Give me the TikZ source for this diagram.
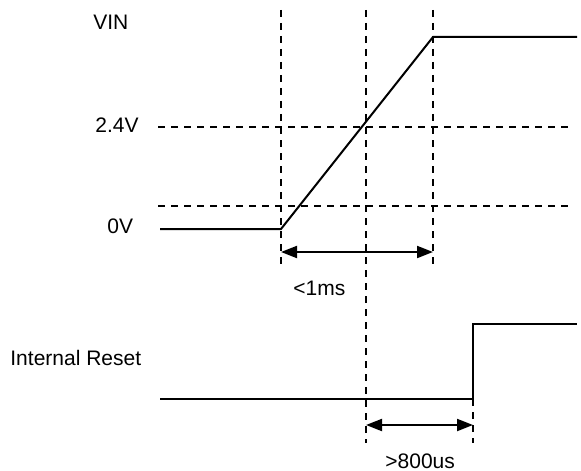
\documentclass[tikz,border=0pt]{standalone}
\usepackage{fontspec}
\setmainfont{Liberation Sans}
\usetikzlibrary{arrows.meta}
\begin{document}
\begin{tikzpicture}[x=0.5pt,y=-0.5pt,
  wave/.style={line width=1pt},
  guide/.style={line width=0.9pt, dash pattern=on 3.5pt off 3pt},
  lbl/.style={anchor=base west, inner sep=0pt, font=\fontsize{10.5}{12}\selectfont},
  span/.style={line width=1pt, {Triangle[length=8pt,width=6pt]}-{Triangle[length=8pt,width=6pt]}}]
\useasboundingbox (0,0) rectangle (581,470);
% labels
\node[lbl] (vin) at (93,30) {VIN};
\node[lbl] (v24) at (95,133) {2.4V};
\node[lbl] (v0) at (107,233) {0V};
\node[lbl] (rst) at (10,365) {Internal Reset};
\node[lbl] (t1) at (293,295) {<1ms};
\node[lbl] (t2) at (385,468) {>800us};
% coordinates
\coordinate (a0) at (160,229);
\coordinate (a1) at (281,229);
\coordinate (a2) at (433,37);
\coordinate (a3) at (577,37);
\coordinate (g1t) at (281,10);
\coordinate (g1b) at (281,268);
\coordinate (g2t) at (366,10);
\coordinate (g2b) at (366,443);
\coordinate (g3t) at (433,10);
\coordinate (g3b) at (433,268);
\coordinate (g4t) at (473,399);
\coordinate (g4b) at (473,443);
\coordinate (h1l) at (158,127);
\coordinate (h1r) at (572,127);
\coordinate (h2l) at (158,206);
\coordinate (h2r) at (572,206);
\coordinate (p1l) at (281,252);
\coordinate (p1r) at (433,252);
\coordinate (p2l) at (366,425);
\coordinate (p2r) at (473,425);
\coordinate (r0) at (160,399);
\coordinate (r1) at (473,399);
\coordinate (r2) at (473,324);
\coordinate (r3) at (577,324);
% guides
\draw[guide] (h1l) -- (h1r);
\draw[guide] (h2l) -- (h2r);
\draw[guide] (g1t) -- (g1b);
\draw[guide] (g2t) -- (g2b);
\draw[guide] (g3t) -- (g3b);
\draw[guide] (g4t) -- (g4b);
% waveforms
\draw[wave] (a0) -- (a1) -- (a2) -- (a3);
\draw[wave] (r0) -- (r1) -- (r2) -- (r3);
% spans
\draw[span] (p1l) -- (p1r);
\draw[span] (p2l) -- (p2r);
\end{tikzpicture}
\end{document}
